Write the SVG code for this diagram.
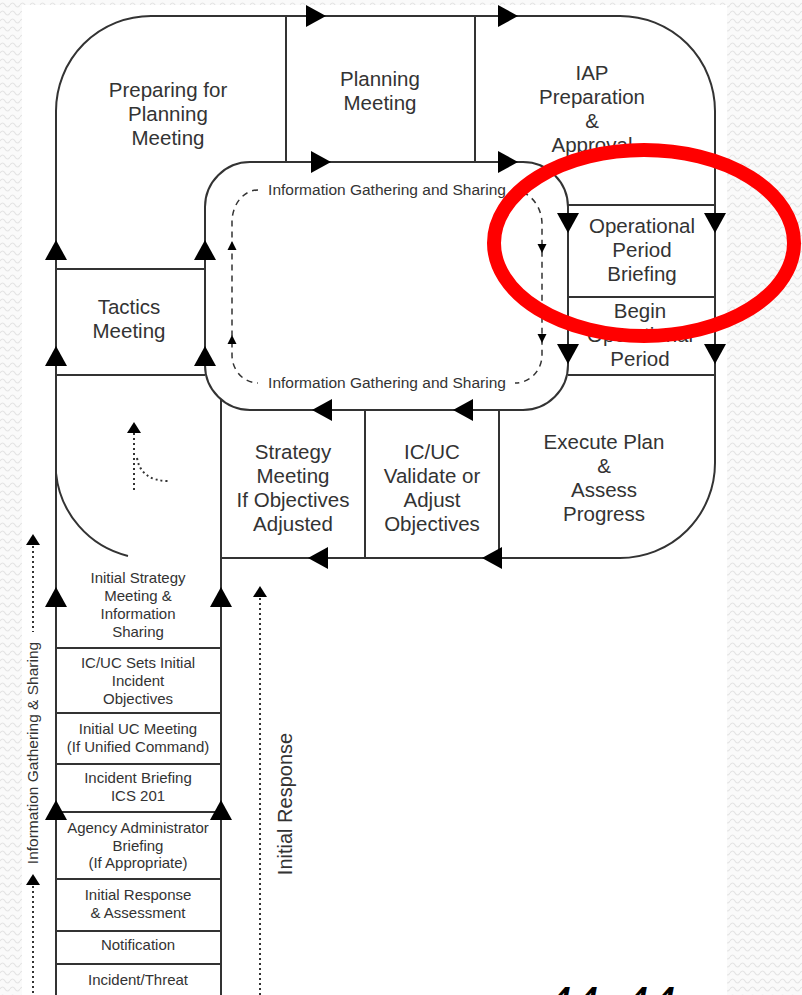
<svg xmlns="http://www.w3.org/2000/svg" width="802" height="995" viewBox="0 0 802 995">
<style>
.ln{fill:none;stroke:#333;stroke-width:2}
.dash{fill:none;stroke:#333;stroke-width:1.5;stroke-dasharray:6 5}
.dot{fill:none;stroke:#333;stroke-width:2;stroke-dasharray:2 3}
.ah{fill:#000}
.big{font-family:"Liberation Sans",Arial,sans-serif;font-size:20.5px;fill:#333;text-anchor:middle}
.sm{font-family:"Liberation Sans",Arial,sans-serif;font-size:15px;fill:#333;text-anchor:middle}
.info{font-family:"Liberation Sans",Arial,sans-serif;font-size:15.5px;fill:#333;text-anchor:middle}
</style>
<defs>
<pattern id="bg" width="10" height="8" patternUnits="userSpaceOnUse">
<path d="M0,5 Q2.5,1 5,5 T10,5" stroke="#e4e4e4" fill="none" stroke-width="1.2"/>
</pattern>
<path id="arr" d="M-10,-11 L10,0 L-10,11 Z"/>
<path id="sarr" d="M-4,-4.5 L5,0 L-4,4.5 Z"/>
<path id="darr" d="M-5,-7 L6,0 L-5,7 Z"/>
</defs>
<rect x="0" y="0" width="802" height="995" fill="#fafafa"/>
<rect x="0" y="0" width="802" height="995" fill="url(#bg)"/>
<rect x="22" y="5" width="705" height="990" fill="#fff"/>

<g id="frame">
<path class="ln" d="M56,995 L56,111 A95,95 0 0 1 151,16 L620,16 A95,95 0 0 1 715,111 L715,463 A95,95 0 0 1 620,558 L221,558"/>
<rect class="ln" x="205" y="162" width="363" height="248" rx="45" ry="45"/>
<line class="ln" x1="286" y1="16" x2="286" y2="162"/>
<line class="ln" x1="475" y1="16" x2="475" y2="162"/>
<line class="ln" x1="568" y1="205" x2="715" y2="205"/>
<line class="ln" x1="568" y1="297" x2="715" y2="297"/>
<line class="ln" x1="568" y1="375" x2="715" y2="375"/>
<line class="ln" x1="56" y1="269" x2="205" y2="269"/>
<line class="ln" x1="56" y1="375" x2="205" y2="375"/>
<line class="ln" x1="221" y1="399" x2="221" y2="995"/>
<line class="ln" x1="365" y1="410" x2="365" y2="558"/>
<line class="ln" x1="499" y1="410" x2="499" y2="558"/>
<path class="ln" d="M56,473 A95,95 0 0 0 128,556"/>
<line class="ln" x1="56" y1="648" x2="221" y2="648"/>
<line class="ln" x1="56" y1="713" x2="221" y2="713"/>
<line class="ln" x1="56" y1="764" x2="221" y2="764"/>
<line class="ln" x1="56" y1="812" x2="221" y2="812"/>
<line class="ln" x1="56" y1="879" x2="221" y2="879"/>
<line class="ln" x1="56" y1="931" x2="221" y2="931"/>
<line class="ln" x1="56" y1="964" x2="221" y2="964"/>
</g>

<g id="connectors">
<use href="#arr" class="ah" transform="translate(316,16)"/>
<use href="#arr" class="ah" transform="translate(508,16)"/>
<use href="#arr" class="ah" transform="translate(321,162)"/>
<use href="#arr" class="ah" transform="translate(508,162)"/>
<use href="#arr" class="ah" transform="translate(568,223) rotate(90)"/>
<use href="#arr" class="ah" transform="translate(715,223) rotate(90)"/>
<use href="#arr" class="ah" transform="translate(568,354) rotate(90)"/>
<use href="#arr" class="ah" transform="translate(715,354) rotate(90)"/>
<use href="#arr" class="ah" transform="translate(322,410) rotate(180)"/>
<use href="#arr" class="ah" transform="translate(463,410) rotate(180)"/>
<use href="#arr" class="ah" transform="translate(318,558) rotate(180)"/>
<use href="#arr" class="ah" transform="translate(492,558) rotate(180)"/>
<use href="#arr" class="ah" transform="translate(56,250) rotate(-90)"/>
<use href="#arr" class="ah" transform="translate(205,250) rotate(-90)"/>
<use href="#arr" class="ah" transform="translate(56,356) rotate(-90)"/>
<use href="#arr" class="ah" transform="translate(205,356) rotate(-90)"/>
<use href="#arr" class="ah" transform="translate(56,597) rotate(-90)"/>
<use href="#arr" class="ah" transform="translate(221,597) rotate(-90)"/>
<use href="#arr" class="ah" transform="translate(56,810) rotate(-90)"/>
<use href="#arr" class="ah" transform="translate(221,810) rotate(-90)"/>
<path class="dash" d="M258,190 A26,32 0 0 0 232,222 L232,355 A26,28 0 0 0 258,383"/>
<path class="dash" d="M512,190 A30,34 0 0 1 542,224 L542,355 A27,28 0 0 1 515,383"/>
<use href="#sarr" class="ah" transform="translate(232,246) rotate(-90)"/>
<use href="#sarr" class="ah" transform="translate(232,340) rotate(-90)"/>
<use href="#sarr" class="ah" transform="translate(542,248) rotate(90)"/>
<use href="#sarr" class="ah" transform="translate(542,338) rotate(90)"/>
<path class="dot" d="M134,433 L134,492"/>
<path class="dot" d="M137,458 Q141,481 169,481"/>
<use href="#darr" class="ah" transform="translate(134,428) rotate(-90)"/>
<path class="dot" d="M33,546 L33,632"/>
<use href="#darr" class="ah" transform="translate(33,540) rotate(-90)"/>
<path class="dot" d="M33,886 L33,995"/>
<use href="#darr" class="ah" transform="translate(33,880) rotate(-90)"/>
<path class="dot" d="M260,598 L260,995"/>
<use href="#darr" class="ah" transform="translate(260,592) rotate(-90)"/>
</g>

<g id="preparing"><text class="big" x="168" y="97">Preparing for</text><text class="big" x="168" y="121">Planning</text><text class="big" x="168" y="145">Meeting</text></g>
<g id="planning"><text class="big" x="380" y="86">Planning</text><text class="big" x="380" y="110">Meeting</text></g>
<g id="iap"><text class="big" x="592" y="80">IAP</text><text class="big" x="592" y="104">Preparation</text><text class="big" x="592" y="128">&amp;</text><text class="big" x="592" y="152">Approval</text></g>
<g id="briefing"><text class="big" x="642" y="233">Operational</text><text class="big" x="642" y="257">Period</text><text class="big" x="642" y="281">Briefing</text></g>
<g id="begin"><text class="big" x="640" y="318">Begin</text><text class="big" x="640" y="342">Operational</text><text class="big" x="640" y="366">Period</text></g>
<g id="execute"><text class="big" x="604" y="449">Execute Plan</text><text class="big" x="604" y="473">&amp;</text><text class="big" x="604" y="497">Assess</text><text class="big" x="604" y="521">Progress</text></g>
<g id="validate"><text class="big" x="432" y="459">IC/UC</text><text class="big" x="432" y="483">Validate or</text><text class="big" x="432" y="507">Adjust</text><text class="big" x="432" y="531">Objectives</text></g>
<g id="strategy"><text class="big" x="293" y="459">Strategy</text><text class="big" x="293" y="483">Meeting</text><text class="big" x="293" y="507">If Objectives</text><text class="big" x="293" y="531">Adjusted</text></g>
<g id="tactics"><text class="big" x="129" y="314">Tactics</text><text class="big" x="129" y="338">Meeting</text></g>
<g id="info-loop"><text class="info" x="387" y="195">Information Gathering and Sharing</text><text class="info" x="387" y="388">Information Gathering and Sharing</text></g>

<g id="initial-strategy"><text class="sm" x="138" y="583">Initial Strategy</text><text class="sm" x="138" y="601">Meeting &amp;</text><text class="sm" x="138" y="619">Information</text><text class="sm" x="138" y="637">Sharing</text></g>
<g id="sets-objectives"><text class="sm" x="138" y="668">IC/UC Sets Initial</text><text class="sm" x="138" y="686">Incident</text><text class="sm" x="138" y="704">Objectives</text></g>
<g id="uc-meeting"><text class="sm" x="138" y="734">Initial UC Meeting</text><text class="sm" x="138" y="752">(If Unified Command)</text></g>
<g id="incident-briefing"><text class="sm" x="138" y="783">Incident Briefing</text><text class="sm" x="138" y="801">ICS 201</text></g>
<g id="agency-briefing"><text class="sm" x="138" y="833">Agency Administrator</text><text class="sm" x="138" y="851">Briefing</text><text class="sm" x="138" y="868">(If Appropriate)</text></g>
<g id="initial-response-box"><text class="sm" x="138" y="900">Initial Response</text><text class="sm" x="138" y="918">&amp; Assessment</text></g>
<g id="notification"><text class="sm" x="138" y="950">Notification</text></g>
<g id="incident"><text class="sm" x="138" y="985">Incident/Threat</text></g>

<g id="side-labels">
<text class="info" transform="translate(38,753) rotate(-90)">Information Gathering &amp; Sharing</text>
<text class="big" style="font-size:20px" transform="translate(292,804) rotate(-90)">Initial Response</text>
</g>

<ellipse cx="644" cy="243" rx="150" ry="93" fill="none" stroke="#ff0000" stroke-width="14"/>
<text x="545 572 598 622 649" y="1020" style="font-family:'Liberation Sans',Arial,sans-serif;font-size:48px;font-style:italic;fill:#000">44-44</text>
</svg>
